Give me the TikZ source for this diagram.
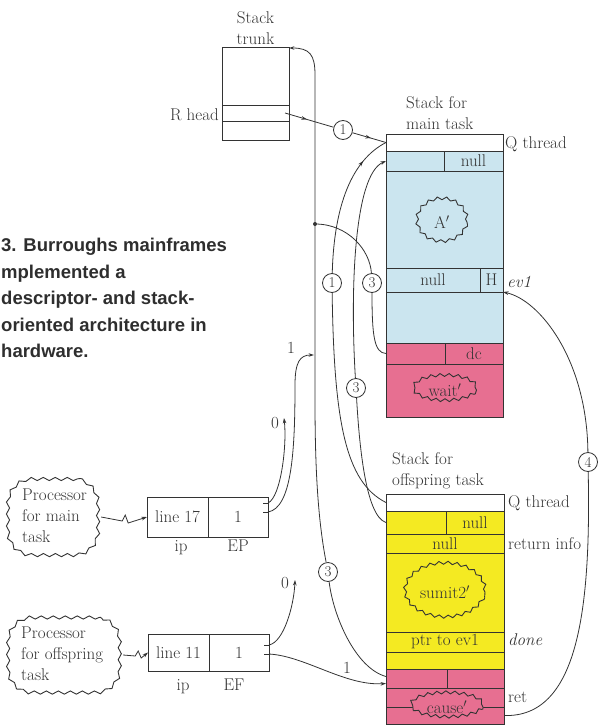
\documentclass[tikz,border=0pt]{standalone}
\usepackage{fontspec}
\newfontfamily\capfont{Liberation Sans}
\usetikzlibrary{arrows.meta, shapes.geometric, decorations.pathmorphing, decorations.markings}
\definecolor{ink}{HTML}{333333}
\definecolor{capink}{HTML}{2E2E2E}
\definecolor{stackblue}{HTML}{CBE5EF}
\definecolor{stackpink}{HTML}{E76F91}
\definecolor{stackyellow}{HTML}{F4EA22}

\begin{document}
\begin{tikzpicture}[
  x=1pt,
  y=-1pt,
  every node/.style={font=\fontsize{17}{21}\selectfont, text=ink},
  cell/.style={draw=ink, line width=1pt, anchor=north west,
               inner sep=0pt, outer sep=0pt},
  link/.style={draw=ink, line width=0.8pt},
  headed/.style={-{Stealth[length=5.5pt, width=3.6pt]}},
  midtip/.style={postaction={decorate, decoration={markings,
               mark=at position #1 with {\arrow{Stealth[length=5.5pt, width=3.6pt]}}}}},
  stepno/.style={circle, draw=ink, line width=0.8pt, fill=white,
               minimum size=19pt, inner sep=0pt,
               font=\fontsize{15}{15}\selectfont},
  blob/.style={ellipse, draw=ink, line width=0.9pt, inner sep=0pt,
               decorate, decoration={snake, segment length=9pt, amplitude=1.5pt}},
  % the corners are rounded on the path itself, the wave is added after
  procblob/.style={rounded corners=24pt, inner sep=0pt,
               postaction={draw=ink, line width=0.9pt, sharp corners,
               decorate, decoration={snake, segment length=12pt, amplitude=1.6pt}}},
  sidelabel/.style={anchor=base west, inner sep=0pt},
  tag/.style={sidelabel, font=\fontsize{17}{21}\selectfont\itshape}
]
  \useasboundingbox (0,0) rectangle (598,725);

  % ---- caption, left margin -------------------------------------------
  \node[anchor=north west, inner sep=0pt, align=left, text=capink,
        font=\capfont\bfseries\fontsize{18.5}{26.5}\selectfont] (caption) at (1,238)
    {3. Burroughs mainframes\\mplemented a\\descriptor- and stack-\\oriented architecture in\\hardware.};

  % ---- stack trunk ------------------------------------------------------
  \node[cell, minimum width=67pt, minimum height=57pt] (trTop) at (222,48) {};
  \node[cell, minimum width=67pt, minimum height=16pt] (trR) at (222,105) {};
  \node[cell, minimum width=67pt, minimum height=19pt] (trBot) at (222,121) {};
  \node[anchor=south, align=center, inner sep=3pt] (trLab) at (trTop.north) {Stack\\trunk};
  \node[anchor=base east, inner sep=0pt] (rhead) at (219,120) {R head};

  % ---- stack for the main task, blue with a pink top of stack -----------
  \node[cell, fill=white, minimum width=117pt, minimum height=17pt] (mQ) at (386,134) {};
  \node[cell, fill=stackblue, minimum width=58pt, minimum height=20pt] (mNullL) at (386,151) {};
  \node[cell, fill=stackblue, minimum width=59pt, minimum height=20pt] (mNullR) at (444,151) {null};
  \node[cell, fill=stackblue, minimum width=117pt, minimum height=97pt] (mA) at (386,171) {};
  \node[cell, fill=stackblue, minimum width=94pt, minimum height=24pt] (mEvL) at (386,268) {null};
  \node[cell, fill=stackblue, minimum width=23pt, minimum height=24pt] (mEvH) at (480,268) {H};
  \node[cell, fill=stackblue, minimum width=117pt, minimum height=51pt] (mLow) at (386,292) {};
  \node[cell, fill=stackpink, minimum width=59pt, minimum height=21pt] (mDcL) at (386,343) {};
  \node[cell, fill=stackpink, minimum width=58pt, minimum height=21pt] (mDcR) at (445,343) {dc};
  \node[cell, fill=stackpink, minimum width=117pt, minimum height=53pt] (mWait) at (386,364) {};
  \node[blob, fill=stackblue, minimum width=50pt, minimum height=43pt] (aprime) at (442,222) {A$'$};
  \node[blob, fill=stackpink, minimum width=63pt, minimum height=25pt] (waitc) at (445,390) {wait$'$};

  \node[anchor=south west, align=left, inner sep=0pt] (mLab) at (406,130) {Stack for\\main task};
  \node[sidelabel] (mQlab) at (505,148) {Q thread};
  \node[tag] (ev1) at (507,287) {ev1};

  % ---- stack for the offspring task, yellow with a pink top -------------
  \node[cell, fill=white, minimum width=118pt, minimum height=17pt] (oQ) at (386,494) {};
  \node[cell, fill=stackyellow, minimum width=60pt, minimum height=23pt] (oNullL) at (386,511) {};
  \node[cell, fill=stackyellow, minimum width=58pt, minimum height=23pt] (oNullR) at (446,511) {null};
  \node[cell, fill=stackyellow, minimum width=118pt, minimum height=19pt] (oRet) at (386,534) {null};
  \node[cell, fill=stackyellow, minimum width=118pt, minimum height=79pt] (oSum) at (386,553) {};
  \node[cell, fill=stackyellow, minimum width=118pt, minimum height=20pt] (oDone) at (386,632) {ptr to ev1};
  \node[cell, fill=stackyellow, minimum width=118pt, minimum height=17pt] (oGap) at (386,652) {};
  \node[cell, fill=stackpink, minimum width=61pt, minimum height=19pt] (oPkL) at (386,669) {};
  \node[cell, fill=stackpink, minimum width=57pt, minimum height=19pt] (oPkR) at (447,669) {};
  \node[cell, fill=stackpink, minimum width=118pt, minimum height=19pt] (oC1) at (386,688) {};
  \node[cell, fill=stackpink, minimum width=118pt, minimum height=17pt] (oC2) at (386,707) {};
  \node[blob, fill=stackyellow, minimum width=80pt, minimum height=54pt] (sumit) at (445,592) {sumit2$'$};
  \node[blob, fill=stackpink, minimum width=72pt, minimum height=24pt] (causec) at (447,707) {cause$'$};

  \node[anchor=south west, align=left, inner sep=0pt] (oLab) at (392,489) {Stack for\\offspring task};
  \node[sidelabel] (oQlab) at (508,507) {Q thread};
  \node[sidelabel] (retinfo) at (508,549) {return info};
  \node[tag] (done) at (508,645) {done};
  \node[sidelabel] (ret) at (508,702) {ret};

  % ---- processors and their ip / EP registers --------------------------
  \node[procblob, minimum width=90pt, minimum height=76pt] (pmc) at (56,517) {};
  \node[anchor=west, align=left, inner sep=0pt] (pmt) at (22,516) {Processor\\for main\\task};
  \node[cell, minimum width=61pt, minimum height=40pt] (lm) at (147,497) {line 17};
  \node[cell, minimum width=60pt, minimum height=40pt] (em) at (208,497) {1};
  \node[anchor=base] (ipm) at (181,551) {ip};
  \node[anchor=base] (epm) at (238,551) {EP};

  \node[procblob, minimum width=112pt, minimum height=75pt] (poc) at (67,655) {};
  \node[anchor=west, align=left, inner sep=0pt] (pot) at (21,654) {Processor\\for offspring\\task};
  \node[cell, minimum width=61pt, minimum height=37pt] (lo) at (148,634) {line 11};
  \node[cell, minimum width=60pt, minimum height=37pt] (eo) at (209,634) {1};
  \node[anchor=base] (ipo) at (183,690) {ip};
  \node[anchor=base] (epo) at (234,690) {EF};

  \draw[link, headed] (pmc.east) -- ++(21,4) -- ++(3,-6) -- ++(3,8) -- (lm.west);
  \draw[link, headed] (poc.east) -- ++(12,1) -- ++(3,-5) -- ++(3,7) -- (lo.west);

  % exits of the 1 bit, two short ticks on each register
  \coordinate (emA) at ([yshift=-6pt]em.north east);
  \coordinate (emB) at ([yshift=-15pt]em.north east);
  \coordinate (eoA) at ([yshift=-11pt]eo.north east);
  \coordinate (eoB) at ([yshift=-20pt]eo.north east);
  \foreach \t in {emA, emB, eoA, eoB}
    \draw[link] (\t) -- ++(-5,0);

  % ---- step numbers ------------------------------------------------------
  \node[stepno] (c1a) at (343,130) {1};
  \node[stepno] (c1b) at (332,283) {1};
  \node[stepno] (c3a) at (372,283) {3};
  \node[stepno] (c3b) at (356,388) {3};
  \node[stepno] (c3c) at (328,572) {3};
  \node[stepno] (c4) at (588,462) {4};

  % ---- links -----------------------------------------------------------
  \coordinate (rh) at ([xshift=-4pt]trR.east);
  \coordinate (jdot) at (315,224);
  \coordinate (jn1) at (314,355);
  \coordinate (z0m) at (284,418);
  \coordinate (z0o) at (295,580);
  \coordinate (pkIn) at ([yshift=2pt]oPkL.west);
  \coordinate (pkArr) at ([yshift=-5pt]oPkL.west);

  % R head to the Q thread of the main stack
  \draw[link, midtip=0.45] (rh) -- (c1a);
  \draw[link, midtip=0.55] (c1a) -- (mQ.west);

  % trunk line: offspring top of stack up to the trunk
  \draw[link] (pkIn) .. controls (355,668) and (333,615) .. (c3c);
  \draw[link, headed] (c3c) .. controls (318,520) and (315,470) .. (315,400)
    -- (315,75) .. controls (315,55) and (310,48) .. (trTop.north east);
  \draw[link] (jdot) .. controls (348,224) and (370,250) .. (c3a);
  \draw[link] (c3a) .. controls (372,335) and (374,353) .. (mDcL.west);
  \fill[ink] (jdot) circle (2pt);

  % Q thread and null fields of the two stacks
  \draw[link, midtip=0.8] (c1b) .. controls (334,205) and (352,160) .. (mQ.west);
  \draw[link] (c1b) .. controls (334,420) and (345,482) .. (oQ.west);
  \draw[link, headed] (c3b) .. controls (350,290) and (354,175) .. (mNullL.west);
  \draw[link] (c3b) .. controls (359,440) and (365,516) .. (oNullL.west);

  % the EP and EF bits
  \draw[link, headed] (emB) .. controls (292,508) and (295,450) .. (295,385)
    .. controls (295,362) and (300,355) .. (jn1);
  \node (lab1m) at (291,348) {1};
  \draw[link, headed] (emA) .. controls (281,497) and (287,445) .. (z0m);
  \node (lab0m) at (275,423) {0};
  \draw[link, headed] (eoA) .. controls (284,642) and (294,605) .. (z0o);
  \node (lab0o) at (285,583) {0};
  \draw[link, headed] (eoB) .. controls (305,656) and (345,686) .. (pkArr);
  \node (lab1o) at (347,668) {1};

  % cause' back to the event ev1
  \draw[link] (oC2.east) .. controls (578,718) and (591,610) .. (c4);
  \draw[link, headed] (c4) .. controls (587,360) and (540,300) .. (mEvH.south east);
\end{tikzpicture}
\end{document}
